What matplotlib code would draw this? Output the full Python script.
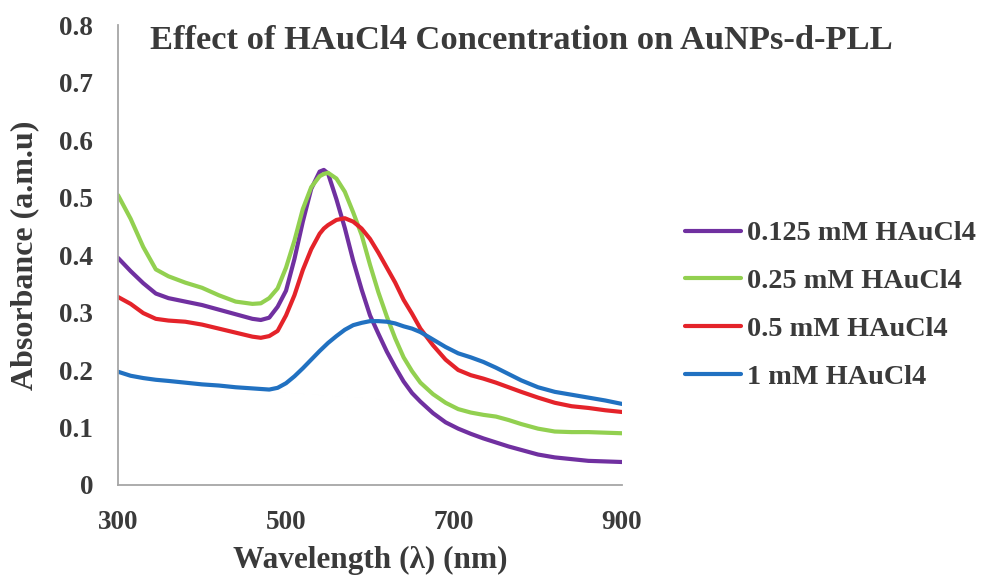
import matplotlib
matplotlib.use("Agg")
import matplotlib.pyplot as plt

# UV-Vis spectra of AuNPs-d-PLL prepared with different HAuCl4 concentrations
wavelength = [300, 315, 330, 345, 360, 380, 400, 420, 440, 460, 470, 480, 490,
              500, 510, 520, 530, 540, 545, 550, 560, 570, 580, 590, 600, 610,
              620, 630, 640, 650, 660, 675, 690, 705, 720, 735, 750, 765, 780,
              800, 820, 840, 860, 880, 900]

abs_0125 = [0.395, 0.372, 0.351, 0.333, 0.325, 0.319, 0.313, 0.305, 0.297, 0.289,
            0.287, 0.291, 0.310, 0.338, 0.393, 0.458, 0.515, 0.545, 0.548, 0.542,
            0.497, 0.447, 0.390, 0.340, 0.295, 0.263, 0.232, 0.205, 0.180, 0.160,
            0.145, 0.125, 0.109, 0.098, 0.089, 0.081, 0.074, 0.067, 0.061, 0.053,
            0.048, 0.045, 0.042, 0.041, 0.040]

abs_025 = [0.504, 0.463, 0.414, 0.375, 0.363, 0.352, 0.343, 0.330, 0.319, 0.315,
           0.316, 0.325, 0.342, 0.378, 0.425, 0.480, 0.518, 0.537, 0.541, 0.543,
           0.533, 0.510, 0.474, 0.435, 0.383, 0.335, 0.293, 0.255, 0.222, 0.198,
           0.178, 0.158, 0.143, 0.132, 0.126, 0.122, 0.119, 0.113, 0.106, 0.098,
           0.093, 0.092, 0.092, 0.091, 0.090]

abs_05 = [0.327, 0.315, 0.299, 0.289, 0.286, 0.284, 0.279, 0.272, 0.265, 0.258,
          0.256, 0.259, 0.268, 0.295, 0.330, 0.374, 0.410, 0.437, 0.446, 0.452,
          0.461, 0.464, 0.458, 0.446, 0.428, 0.404, 0.378, 0.352, 0.322, 0.298,
          0.272, 0.243, 0.218, 0.200, 0.191, 0.185, 0.178, 0.170, 0.162, 0.152,
          0.143, 0.137, 0.134, 0.130, 0.127]

abs_1 = [0.197, 0.190, 0.186, 0.183, 0.181, 0.178, 0.175, 0.173, 0.170, 0.168,
         0.167, 0.166, 0.169, 0.177, 0.189, 0.203, 0.218, 0.233, 0.240, 0.247,
         0.259, 0.270, 0.278, 0.282, 0.285, 0.285, 0.284, 0.281, 0.276, 0.272,
         0.266, 0.253, 0.240, 0.229, 0.222, 0.214, 0.204, 0.193, 0.182, 0.170,
         0.162, 0.157, 0.152, 0.147, 0.141]

labels = ["0.125 mM HAuCl4", "0.25 mM HAuCl4", "0.5 mM HAuCl4", "1 mM HAuCl4"]
series = [abs_0125, abs_025, abs_05, abs_1]
colors = ["#7030A0", "#92D050", "#E4232A", "#2171C1"]

x_ticks = [300, 500, 700, 900]
y_ticks = [0, 0.1, 0.2, 0.3, 0.4, 0.5, 0.6, 0.7, 0.8]

text_color = "#3A3A3A"
plt.rcParams["font.family"] = ["Liberation Serif", "DejaVu Serif"]
plt.rcParams["font.weight"] = "bold"

fig = plt.figure(figsize=(9.82, 5.78), dpi=100)
ax = fig.add_axes([0.1202, 0.1609, 0.5132, 0.7958])

for vals, lab, col in zip(series, labels, colors):
    ax.plot(wavelength, vals, color=col, lw=3.0, label=lab,
            solid_capstyle="round", solid_joinstyle="round")

ax.set_xlim(300, 900)
ax.set_ylim(0, 0.8)
ax.set_xticks(x_ticks)
ax.set_xticklabels([str(t) for t in x_ticks])
ax.set_yticks(y_ticks)
ax.set_yticklabels(["0" if t == 0 else f"{t:.1f}" for t in y_ticks])
ax.tick_params(axis="both", length=0, labelsize=19.5, colors=text_color)
ax.tick_params(axis="y", pad=18)
ax.tick_params(axis="x", pad=18)
for lbl in ax.get_xticklabels() + ax.get_yticklabels():
    lbl.set_fontweight("bold")

for side in ["top", "right"]:
    ax.spines[side].set_visible(False)
for side in ["left", "bottom"]:
    ax.spines[side].set_color("#A6A6A6")
    ax.spines[side].set_linewidth(1.3)

ax.set_xlabel("Wavelength (λ) (nm)", fontsize=22.5, fontweight="bold",
              color=text_color, labelpad=8)
ax.set_ylabel("Absorbance (a.m.u)", fontsize=23, fontweight="bold",
              color=text_color, labelpad=14)

fig.text(0.5305, 0.93, "Effect of HAuCl4 Concentration on AuNPs-d-PLL",
         ha="center", va="center", fontsize=24.8, fontweight="bold",
         color=text_color)

leg = fig.legend(loc="center left", bbox_to_anchor=(0.6975, 0.472), frameon=False,
                 fontsize=20.3, handlelength=2.0, handletextpad=0.2,
                 labelspacing=0.78, borderaxespad=0, borderpad=0)
for t in leg.get_texts():
    t.set_color(text_color)
    t.set_fontweight("bold")

fig.savefig("out.png", dpi=100, facecolor="white")
